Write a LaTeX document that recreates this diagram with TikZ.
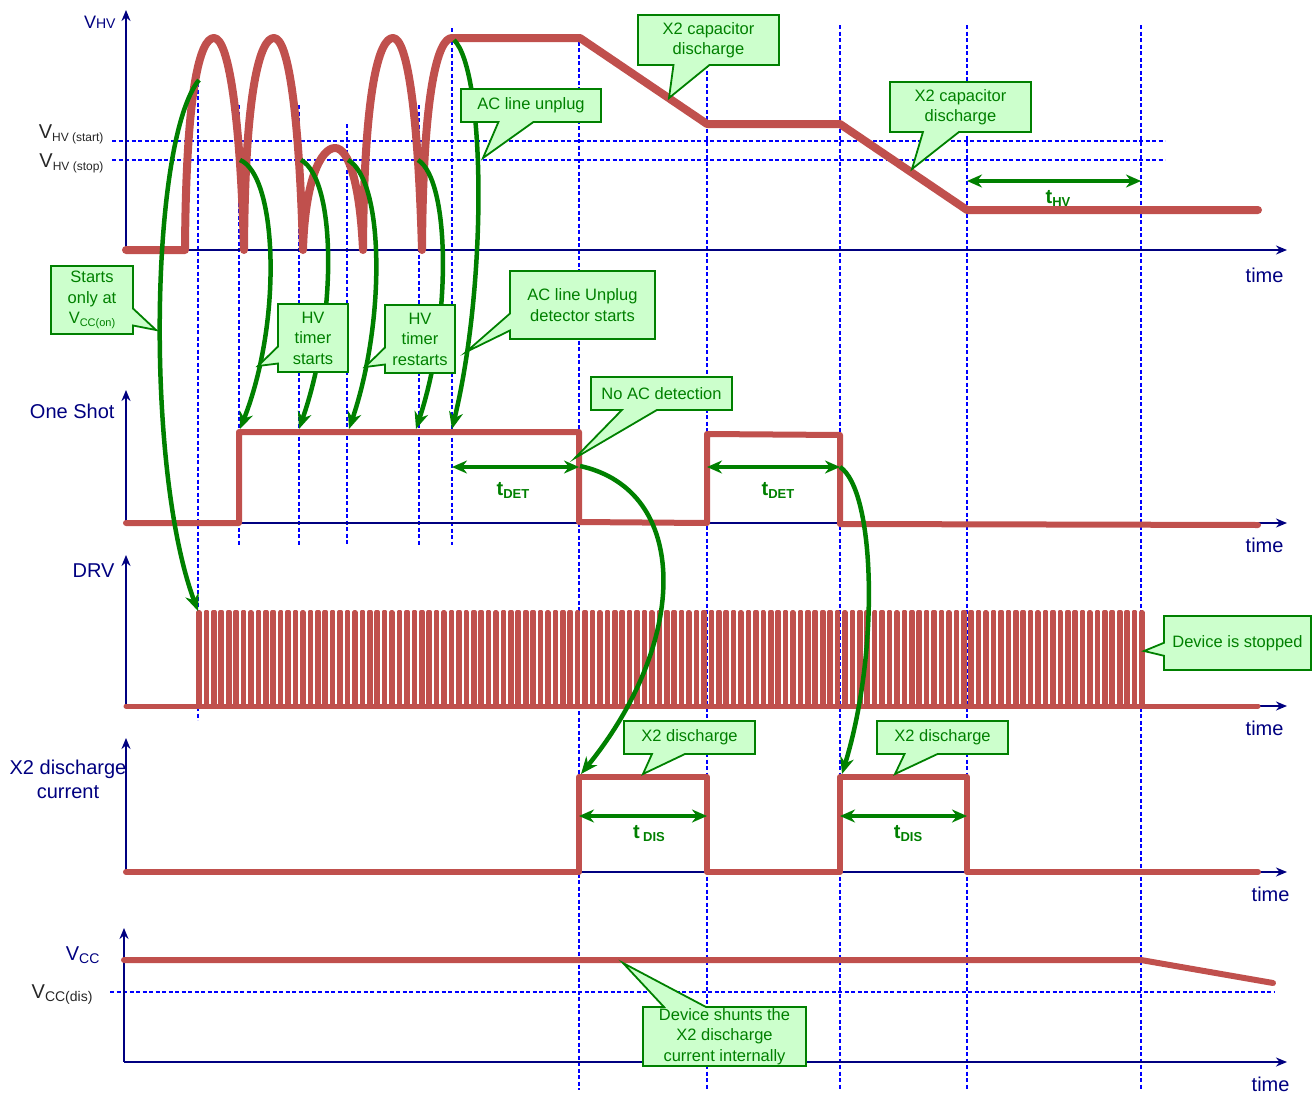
\documentclass[tikz,border=0pt]{standalone}
\usepackage{fontspec}
\setmainfont{Liberation Sans}
\usetikzlibrary{arrows.meta, calc, shapes.callouts}
\definecolor{sigred}{RGB}{192,80,77}
\definecolor{axnavy}{RGB}{0,0,128}
\definecolor{gridblue}{RGB}{0,0,255}
\definecolor{notegreen}{RGB}{0,128,0}
\definecolor{notefill}{RGB}{204,255,204}
\newcommand{\lowered}[2]{\raisebox{-0.3ex}{\fontsize{#1}{#1}\selectfont #2}}

\begin{document}
\begin{tikzpicture}[x=1pt, y=-1pt,
      axisarr/.style={-{Stealth[length=11pt, width=9pt]}, line width=1.8, axnavy},
      gridline/.style={gridblue, line width=1.8, dash pattern=on 4pt off 2.5pt},
      sig/.style={sigred, line width=6, line cap=round, line join=round},
      pulse/.style={sigred, line width=3.6, line join=round},
      garr/.style={-{Stealth[length=17pt, width=14pt]}, line width=4.5, notegreen},
      dimarr/.style={{Stealth[length=15pt, width=13pt]}-{Stealth[length=15pt, width=13pt]}, line width=4.5, notegreen},
      callbox/.style={rectangle callout, draw=notegreen, line width=1.8, fill=notefill, text=notegreen, align=center, inner sep=0pt, font=\fontsize{16.5}{20.5}\selectfont},
      axlabel/.style={axnavy, font=\fontsize{20}{24}\selectfont, align=center},
      lvlabel/.style={black!85, font=\fontsize{20}{24}\selectfont},
      tlabel/.style={notegreen, font=\fontsize{20}{24}\selectfont\bfseries}
    ]
      \useasboundingbox (0,0) rectangle (1315,1095);

      \draw[gridline] (198,57) -- (198,720);
      \draw[gridline] (239,105) -- (239,545);
      \draw[gridline] (299,105) -- (299,545);
      \draw[gridline] (347,124) -- (347,545);
      \draw[gridline] (419,105) -- (419,545);
      \draw[gridline] (452,28) -- (452,545);
      \draw[gridline] (579,35) -- (579,1090);
      \draw[gridline] (707,25) -- (707,1090);
      \draw[gridline] (840,25) -- (840,1090);
      \draw[gridline] (967,25) -- (967,1090);
      \draw[gridline] (1141,25) -- (1141,1090);
      \draw[gridline] (112,141) -- (1165,141);
      \draw[gridline] (112,160) -- (1165,160);
      \draw[gridline] (110,992) -- (1275,992);

      \draw[axisarr] (126,250) -- (126,10);
      \draw[axisarr] (126,250) -- (1287,250);
      \draw[axisarr] (126,523) -- (126,390);
      \draw[axisarr] (126,523) -- (1287,523);
      \draw[axisarr] (126,706) -- (126,555);
      \draw[axisarr] (126,706) -- (1287,706);
      \draw[axisarr] (126,872) -- (126,738);
      \draw[axisarr] (126,872) -- (1287,872);
      \draw[axisarr] (124,1062) -- (124,928);
      \draw[axisarr] (124,1062) -- (1287,1062);

      \node[axlabel, anchor=base east, font=\fontsize{18}{20}\selectfont] (vhvlab) at (119,28) {V{\fontsize{14}{14}\selectfont HV}};
      \node[lvlabel, anchor=base east] (vstartlab) at (107,138) {V\lowered{12}{HV (start)}};
      \node[lvlabel, anchor=base east] (vstoplab) at (107,167) {V\lowered{12}{HV (stop)}};
      \node[axlabel, anchor=base east] (oslab) at (118,418) {One Shot};
      \node[axlabel, anchor=base east] (drvlab) at (118,577) {DRV};
      \node[axlabel] (x2lab) at (68,779) {X2 discharge\\current};
      \node[axlabel, anchor=base east] (vcclab) at (103,960) {V\lowered{14}{CC}};
      \node[lvlabel, anchor=base east] (vdislab) at (96,998) {V\lowered{14}{CC(dis)}};
      \node[axlabel, anchor=base east] (time1) at (1287,282) {time};
      \node[axlabel, anchor=base east] (time2) at (1287,552) {time};
      \node[axlabel, anchor=base east] (time3) at (1287,735) {time};
      \node[axlabel, anchor=base east] (time4) at (1293,901) {time};
      \node[axlabel, anchor=base east] (time5) at (1293,1091) {time};

      \draw[sig, line width=8] (126,250) -- (185,250)
        .. controls (186,90) and (200,38) .. (214,38) .. controls (228,38) and (240,110) .. (244,250)
        .. controls (245,90) and (260,38) .. (274,38) .. controls (288,38) and (299,110) .. (303,250)
        .. controls (305,180) and (321,148) .. (335,148) .. controls (349,148) and (360,185) .. (363,250)
        .. controls (364,90) and (379,38) .. (393,38) .. controls (407,38) and (418,110) .. (422,250)
        .. controls (423,90) and (438,38) .. (452,38)
        -- (580,38) -- (707,124) -- (840,124) -- (967,210) -- (1258,210);
      \draw[sig] (126,523) -- (239,523) -- (239,432) -- (579,432) -- (579,522) -- (707,523) -- (707,434)
        -- (840,435) -- (840,524) -- (1258,525);
      \draw[sig, line width=5] (126,706) -- (1258,706);
      \foreach \i [evaluate=\i as \px using 198+7.425*\i] in {0,...,127}
        \draw[pulse] (\px,706) -- (\px,612) -- (\px+2,612) -- (\px+2,706);
      \draw[sig] (126,872) -- (579,872) -- (579,777) -- (707,777) -- (707,872) -- (840,872) -- (840,777)
        -- (967,777) -- (967,872) -- (1258,872);
      \draw[sig] (124,960) -- (1141,960) -- (1273,983);

      \coordinate (hvpk) at (199,80);
      \coordinate (drvon) at (198,611);
      \coordinate (hv1) at (240,160);
      \coordinate (os1) at (240,429);
      \coordinate (hv2) at (301,160);
      \coordinate (os2) at (299,429);
      \coordinate (hv3) at (348,160);
      \coordinate (os3) at (349,429);
      \coordinate (hv4) at (418,160);
      \coordinate (os4) at (416,429);
      \coordinate (hv5) at (454,40);
      \coordinate (os5) at (452,429);
      \coordinate (det1) at (580,466);
      \coordinate (dis1) at (581,774);
      \coordinate (det2) at (840,467);
      \coordinate (dis2) at (842,774);

      \draw[garr] (hvpk) .. controls (150,140) and (145,470) .. (drvon);
      \draw[garr] (hv1) .. controls (277,175) and (283,320) .. (os1);
      \draw[garr] (hv2) .. controls (337,180) and (337,320) .. (os2);
      \draw[garr] (hv3) .. controls (384,180) and (386,320) .. (os3);
      \draw[garr] (hv4) .. controls (450,180) and (452,320) .. (os4);
      \draw[garr] (hv5) .. controls (485,70) and (488,280) .. (os5);
      \draw[garr] (det1) .. controls (690,490) and (690,640) .. (dis1);
      \draw[garr] (det2) .. controls (875,490) and (880,650) .. (dis2);

      \coordinate (thva) at (967,181);
      \coordinate (thvb) at (1141,181);
      \coordinate (deta) at (452,467);
      \coordinate (detb) at (579,467);
      \coordinate (detc) at (707,467);
      \coordinate (detd) at (840,467);
      \coordinate (disa) at (579,816);
      \coordinate (disb) at (707,816);
      \coordinate (disc) at (840,816);
      \coordinate (disd) at (967,816);

      \draw[dimarr] (thva) -- (thvb);
      \draw[dimarr] (deta) -- (detb);
      \draw[dimarr] (detc) -- (detd);
      \draw[dimarr] (disa) -- (disb);
      \draw[dimarr] (disc) -- (disd);

      \node[tlabel, anchor=base] (thvlab) at (1058,203) {t\lowered{13}{HV}};
      \node[tlabel, anchor=base] (det1lab) at (513,495) {t\lowered{13}{DET}};
      \node[tlabel, anchor=base] (det2lab) at (778,495) {t\lowered{13}{DET}};
      \node[tlabel, anchor=base] (dis1lab) at (649,838) {t\,\lowered{13}{DIS}};
      \node[tlabel, anchor=base] (dis2lab) at (908,838) {t\lowered{13}{DIS}};

      \node[callbox, minimum width=141, minimum height=50, callout pointer width=36, callout absolute pointer={(669,98)}] (capdis1) at (708.5,40) {X2 capacitor\\discharge};
      \node[callbox, minimum width=140, minimum height=33, callout pointer width=35, callout absolute pointer={(483,158)}] (unplug) at (531,105.5) {AC line unplug};
      \node[callbox, minimum width=141, minimum height=50, callout pointer width=36, callout absolute pointer={(912,169)}] (capdis2) at (960.5,107) {X2 capacitor\\discharge};
      \node[callbox, minimum width=82, minimum height=68, callout pointer width=17, callout absolute pointer={(156,330)}] (vccon) at (92,300) {Starts\\only at\\V\lowered{11}{CC(on)}};
      \node[callbox, minimum width=70, minimum height=68, callout pointer width=17, callout absolute pointer={(258,366)}] (hvstart) at (313,338) {HV\\timer\\starts};
      \node[callbox, minimum width=70, minimum height=68, callout pointer width=17, callout absolute pointer={(365,367)}] (hvrestart) at (420,339) {HV\\timer\\restarts};
      \node[callbox, minimum width=145, minimum height=68, callout pointer width=17, callout absolute pointer={(466,352)}] (detstart) at (582.5,305) {AC line Unplug\\detector starts};
      \node[callbox, minimum width=141, minimum height=33, callout pointer width=35, callout absolute pointer={(575,458)}] (noac) at (661.5,393.5) {No AC detection};
      \node[callbox, minimum width=131, minimum height=33, callout pointer width=33, callout absolute pointer={(643,774)}] (x2dis1) at (689.5,737.5) {X2 discharge};
      \node[callbox, minimum width=131, minimum height=33, callout pointer width=33, callout absolute pointer={(895,774)}] (x2dis2) at (942.5,737.5) {X2 discharge};
      \node[callbox, minimum width=147, minimum height=54, callout pointer width=13, callout absolute pointer={(1144,651)}] (stopped) at (1237.5,643) {Device is stopped};
      \node[callbox, minimum width=163, minimum height=59, callout pointer width=42, callout absolute pointer={(623,963)}] (shunt) at (724.5,1036.5) {Device shunts the\\X2 discharge\\current internally};
    \end{tikzpicture}
\end{document}
